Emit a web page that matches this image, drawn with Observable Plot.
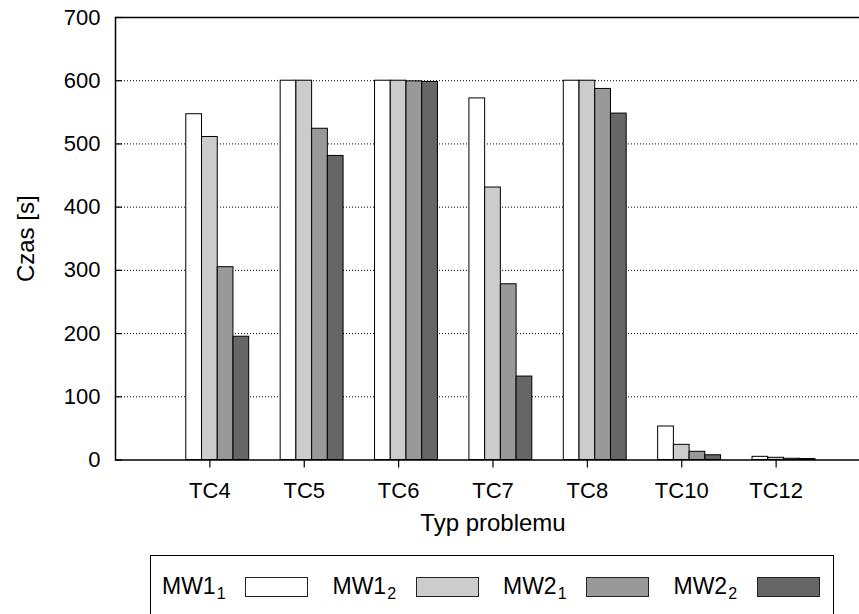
<!DOCTYPE html>
<html>
<head>
<meta charset="utf-8">
<script src="https://cdn.jsdelivr.net/npm/d3@7"></script>
<script src="https://cdn.jsdelivr.net/npm/@observablehq/plot@0.6"></script>
<style>
  html, body { margin: 0; padding: 0; background: #fff; overflow: hidden; width: 859px; height: 614px; }
  body { position: relative; font-family: "Liberation Sans", Arial, sans-serif; color: #000; }
  #chart { position: absolute; left: 0; top: 0; }
  .legend {
    position: absolute; left: 150px; top: 555px; width: 684px; height: 80px;
    border: 1.5px solid #000; box-sizing: border-box;
    display: flex; align-items: flex-start; padding: 19px 0 0 11px;
  }
  .item { display: flex; align-items: flex-start; margin-right: 24.5px; }
  .lab { font-size: 23px; line-height: 23px; width: 65px; margin-right: 18px; white-space: nowrap; }
  .lab sub { font-size: 16px; position: relative; top: 5px; vertical-align: baseline; margin-left: 1px; }
  .sw { display: block; margin-top: 2px; }
</style>
</head>
<body>
<div id="chart"></div>
<div class="legend" id="legend"></div>
<script>
// Test cases on the x axis
const categories = ["TC4", "TC5", "TC6", "TC7", "TC8", "TC10", "TC12"];

// Series: key, legend name with subscript, fill
const seriesKeys = ["MW1_1", "MW1_2", "MW2_1", "MW2_2"];
const seriesBase = ["MW1", "MW1", "MW2", "MW2"];
const seriesSub = ["1", "2", "1", "2"];
const seriesFill = ["#ffffff", "#cccccc", "#999999", "#666666"];

// Run times [s] per test case
const mw1_1 = [547, 600, 600, 572, 600, 53, 5];
const mw1_2 = [511, 600, 600, 431, 600, 24, 3.5];
const mw2_1 = [305, 524, 599, 278, 587, 13, 2];
const mw2_2 = [195, 481, 598, 132, 548, 7.5, 1.5];

const yTicks = [0, 100, 200, 300, 400, 500, 600, 700];
const gridTicks = [100, 200, 300, 400, 500, 600];

// Long-format table for the bars
const seriesValues = [mw1_1, mw1_2, mw2_1, mw2_2];
const rows = [];
seriesValues.forEach((vals, s) => {
  vals.forEach((v, i) => rows.push({cat: i, s, series: seriesKeys[s], value: v}));
});

// Clustered histogram: each test case takes one unit of x; the four bars are
// 1/6 unit wide and the cluster starts 1/4 unit left of the tick.
const barW = 1 / 6;
const x1 = d => d.cat - 0.25 + d.s * barW;
const x2 = d => d.cat - 0.25 + (d.s + 1) * barW;

const chart = Plot.plot({
  width: 859,
  height: 545,
  marginLeft: 115,
  marginTop: 17,
  marginBottom: 85.5,
  marginRight: -11,
  x: {type: "linear", domain: [-1, 7], range: [115, 870]},
  y: {domain: [0, 700], range: [459.5, 17]},
  color: {domain: seriesKeys, range: seriesFill},
  style: {fontFamily: "'Liberation Sans', Arial, sans-serif", fontSize: "22px", color: "#000", background: "#fff"},
  marks: [
    Plot.gridY(gridTicks, {stroke: "#000", strokeOpacity: 1, strokeWidth: 1, strokeDasharray: "1,2"}),
    Plot.rect(rows, {x1, x2, y1: 0, y2: "value", fill: "series", stroke: "#000", strokeWidth: 1}),
    Plot.axisY(yTicks, {
      tickSize: 0, tickPadding: 15, fontSize: 22,
      label: null
    }),
    Plot.axisY(yTicks, {tickSize: 7, dx: 7, tickFormat: () => "", label: null, strokeWidth: 1.2}),
    Plot.axisX(d3.range(categories.length), {
      tickSize: 8, tickPadding: 14.5, fontSize: 22, strokeWidth: 1.2,
      tickFormat: i => categories[i], label: null
    }),
    // Axis titles
    Plot.axisY([], {label: "Czas [s]", labelAnchor: "center", labelOffset: 99, labelArrow: "none", fontSize: 24, tickSize: 0}),
    Plot.axisX([], {label: "Typ problemu", labelAnchor: "center", labelOffset: 71, labelArrow: "none", fontSize: 24, tickSize: 0}),
    Plot.frame({stroke: "#000", strokeWidth: 1.5})
  ]
});
document.getElementById("chart").append(chart);

// Legend below the plot
const legend = d3.select("#legend");
seriesKeys.forEach((k, i) => {
  const item = legend.append("div").attr("class", "item");
  const lab = item.append("span").attr("class", "lab");
  lab.append("span").text(seriesBase[i]);
  lab.append("sub").text(seriesSub[i]);
  const sw = item.append("svg").attr("class", "sw").attr("width", 63).attr("height", 20);
  sw.append("rect").attr("x", 0.5).attr("y", 0.5).attr("width", 62).attr("height", 19)
    .attr("fill", seriesFill[i]).attr("stroke", "#222").attr("stroke-width", 1);
});
</script>
</body>
</html>
